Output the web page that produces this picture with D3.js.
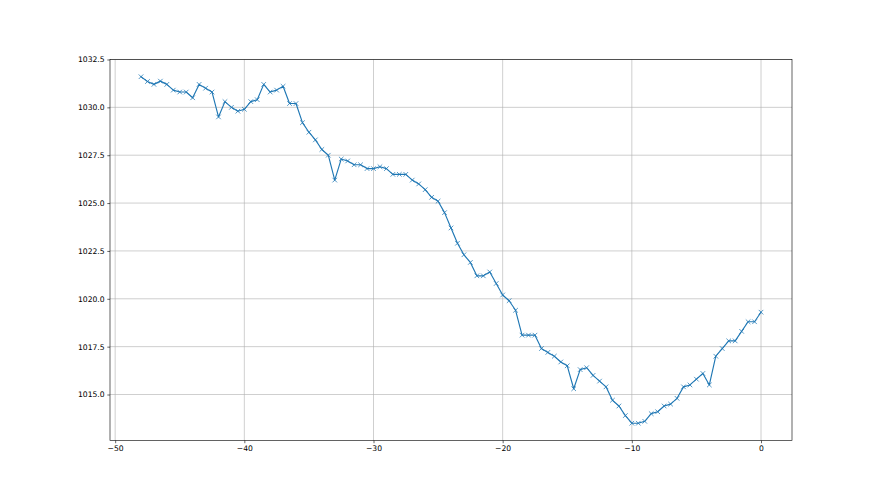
<!DOCTYPE html>
<html>
<head>
<meta charset="utf-8">
<script src="https://cdn.jsdelivr.net/npm/d3@7"></script>
<style>
  html, body { margin: 0; padding: 0; background: #fff; }
  svg { display: block; }
  text { font-family: "DejaVu Sans", sans-serif; }
</style>
</head>
<body>
<svg id="chart" width="880" height="495"></svg>
<script>
const hours = [-48,-47.5,-47,-46.5,-46,-45.5,-45,-44.5,-44,-43.5,-43,-42.5,-42,-41.5,-41,-40.5,-40,-39.5,-39,-38.5,-38,-37.5,-37,-36.5,-36,-35.5,-35,-34.5,-34,-33.5,-33,-32.5,-32,-31.5,-31,-30.5,-30,-29.5,-29,-28.5,-28,-27.5,-27,-26.5,-26,-25.5,-25,-24.5,-24,-23.5,-23,-22.5,-22,-21.5,-21,-20.5,-20,-19.5,-19,-18.5,-18,-17.5,-17,-16.5,-16,-15.5,-15,-14.5,-14,-13.5,-13,-12.5,-12,-11.5,-11,-10.5,-10,-9.5,-9,-8.5,-8,-7.5,-7,-6.5,-6,-5.5,-5,-4.5,-4,-3.5,-3,-2.5,-2,-1.5,-1,-0.5,0];
const pressure = [1031.6,1031.35,1031.2,1031.37,1031.2,1030.9,1030.8,1030.8,1030.5,1031.2,1031.0,1030.8,1029.5,1030.3,1030.0,1029.8,1029.9,1030.3,1030.4,1031.2,1030.8,1030.9,1031.1,1030.2,1030.2,1029.2,1028.7,1028.3,1027.8,1027.5,1026.2,1027.3,1027.2,1027.0,1027.0,1026.8,1026.8,1026.9,1026.8,1026.5,1026.5,1026.5,1026.2,1026.0,1025.7,1025.3,1025.1,1024.5,1023.7,1022.9,1022.3,1021.9,1021.2,1021.2,1021.4,1020.8,1020.2,1019.9,1019.4,1018.1,1018.1,1018.1,1017.4,1017.2,1017.0,1016.7,1016.5,1015.3,1016.3,1016.4,1016.0,1015.7,1015.4,1014.7,1014.4,1013.9,1013.5,1013.5,1013.6,1014.0,1014.1,1014.4,1014.5,1014.8,1015.4,1015.5,1015.8,1016.1,1015.5,1017.0,1017.4,1017.8,1017.8,1018.3,1018.8,1018.8,1019.3];
const xTicks = [-50,-40,-30,-20,-10,0];
const yTicks = [1015.0,1017.5,1020.0,1022.5,1025.0,1027.5,1030.0,1032.5];

(function(){
const W = 880, H = 495;
const s = 55/72; // pt -> px
const pL = 0.125*W, pR = 0.9*W, pT = 0.12*H, pB = 0.89*H;

const data = hours.map((h,i)=>({x:h, y:pressure[i]}));
const xmin = d3.min(hours), xmax = d3.max(hours);
const ymin = d3.min(pressure), ymax = d3.max(pressure);
const xm = (xmax-xmin)*0.05, ym = (ymax-ymin)*0.05;

const x = d3.scaleLinear().domain([xmin-xm, xmax+xm]).range([pL, pR]);
const y = d3.scaleLinear().domain([ymin-ym, ymax+ym]).range([pB, pT]);

const svg = d3.select("#chart");
svg.append("rect").attr("width",W).attr("height",H).attr("fill","#fff");

const fs = 10*s, tickLen = 3.5*s, pad = 3.5*s;
const gridW = 0.8*s;

// grid
const grid = svg.append("g");
grid.selectAll("line.gx").data(xTicks).enter().append("line").attr("class","gx")
  .attr("x1",d=>x(d)).attr("x2",d=>x(d)).attr("y1",pT).attr("y2",pB)
  .attr("stroke","#b0b0b0").attr("stroke-width",gridW);
grid.selectAll("line.gy").data(yTicks).enter().append("line").attr("class","gy")
  .attr("x1",pL).attr("x2",pR).attr("y1",d=>y(d)).attr("y2",d=>y(d))
  .attr("stroke","#b0b0b0").attr("stroke-width",gridW);

// line
const line = d3.line().x(d=>x(d.x)).y(d=>y(d.y));
svg.append("path").datum(data).attr("d",line)
  .attr("fill","none").attr("stroke","#1f77b4").attr("stroke-width",1.5*s)
  .attr("stroke-linejoin","round").attr("stroke-linecap","square");

// markers 'x'
const ms = 6*s/2;
const mk = svg.append("g");
mk.selectAll("path").data(data).enter().append("path")
  .attr("d",d=>{const cx=x(d.x), cy=y(d.y);
    return `M${cx-ms},${cy-ms}L${cx+ms},${cy+ms}M${cx-ms},${cy+ms}L${cx+ms},${cy-ms}`;})
  .attr("stroke","#1f77b4").attr("stroke-width",1*s).attr("fill","none");

// axes
const xAxis = d3.axisBottom(x).tickValues(xTicks).tickSize(tickLen).tickPadding(pad)
  .tickFormat(d3.format("d"));
const gx = svg.append("g").attr("transform",`translate(0,${pB})`).call(xAxis);
const yAxis = d3.axisLeft(y).tickValues(yTicks).tickSize(tickLen).tickPadding(pad)
  .tickFormat(d3.format(".1f"));
const gy = svg.append("g").attr("transform",`translate(${pL},0)`).call(yAxis);
[gx,gy].forEach(g=>{
  g.select(".domain").remove();
  g.selectAll(".tick line").attr("stroke","#000").attr("stroke-width",gridW);
  g.selectAll(".tick text").attr("font-size",fs).attr("font-family","DejaVu Sans, sans-serif").attr("fill","#000");
});

// spines
svg.append("rect").attr("x",pL).attr("y",pT).attr("width",pR-pL).attr("height",pB-pT)
  .attr("fill","none").attr("stroke","#000").attr("stroke-width",gridW);
})();
</script>
</body>
</html>
